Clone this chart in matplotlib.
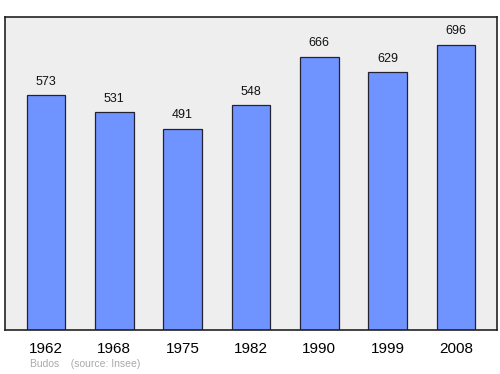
import matplotlib.pyplot as plt

plt.rcParams["font.family"] = ["Liberation Sans", "DejaVu Sans"]

years = ["1962", "1968", "1975", "1982", "1990", "1999", "2008"]
population = [573, 531, 491, 548, 666, 629, 696]

fig = plt.figure(figsize=(5.0, 3.74), dpi=100)
ax = fig.add_axes([0.010, 0.118, 0.984, 0.837])
ax.set_facecolor("#eeeeee")

x = range(len(years))
ax.bar(x, population, width=0.57, color="#7094ff", edgecolor="#222233", linewidth=0.9)
for xi, v in zip(x, population):
    ax.text(xi, v + 0.024 * 764, str(v), ha="center", va="bottom", fontsize=9, color="#111111")

ax.set_xlim(-0.6, 6.6)
ax.set_ylim(0, 764)
ax.set_yticks([])
ax.set_xticks(list(x))
ax.set_xticklabels(years, fontsize=11)
ax.tick_params(axis="x", length=0, pad=9)
for s in ax.spines.values():
    s.set_linewidth(1.2)
    s.set_color("#222222")

fig.text(0.06, 0.018, "Budos    (source: Insee)", fontsize=7.5, color="#aaaaaa")

fig.savefig("out.png", dpi=100)
